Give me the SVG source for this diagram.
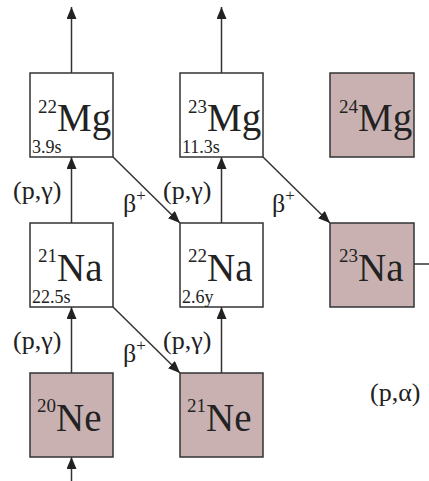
<svg xmlns="http://www.w3.org/2000/svg" width="429" height="481" viewBox="0 0 429 481" font-family="'Liberation Serif', 'Times New Roman', serif">
<defs>
<style>
.box{fill:#ffffff;stroke:#333333;stroke-width:1.5}
.stable{fill:#c9b1b1}
text{fill:#222222}
.el{font-size:39px}
.sup{font-size:19px}
.hl{font-size:18px}
.lab{font-size:26px}
.plus{font-size:17px}
.conn{stroke:#333333;stroke-width:1.5;fill:none}
</style>
<marker id="ah" viewBox="0 0 12 10" refX="12" refY="5" markerWidth="12" markerHeight="10" markerUnits="userSpaceOnUse" orient="auto">
<path d="M0,0 L12,5 L0,10 z" fill="#222222"/>
</marker>
</defs>
<rect width="429" height="481" fill="#ffffff"/>
<g id="connectors">
<line class="conn" x1="71.5" y1="73" x2="71.5" y2="7" marker-end="url(#ah)"/>
<line class="conn" x1="221.5" y1="73" x2="221.5" y2="7" marker-end="url(#ah)"/>
<line class="conn" x1="71.5" y1="223" x2="71.5" y2="157" marker-end="url(#ah)"/>
<line class="conn" x1="221.5" y1="223" x2="221.5" y2="157" marker-end="url(#ah)"/>
<line class="conn" x1="71.5" y1="373" x2="71.5" y2="307" marker-end="url(#ah)"/>
<line class="conn" x1="221.5" y1="373" x2="221.5" y2="307" marker-end="url(#ah)"/>
<line class="conn" x1="71.5" y1="481" x2="71.5" y2="457" marker-end="url(#ah)"/>
<line class="conn" x1="113" y1="157" x2="180" y2="223" marker-end="url(#ah)"/>
<line class="conn" x1="263" y1="157" x2="330" y2="223" marker-end="url(#ah)"/>
<line class="conn" x1="113" y1="307" x2="180" y2="373" marker-end="url(#ah)"/>
<line class="conn" x1="414" y1="264" x2="429" y2="264"/>
</g>
<g id="labels">
<text class="lab" x="13" y="199">(p,γ)</text>
<text class="lab" x="163" y="199">(p,γ)</text>
<text class="lab" x="13" y="349">(p,γ)</text>
<text class="lab" x="163" y="349">(p,γ)</text>
<text class="lab" x="123" y="212">β<tspan class="plus" dy="-11">+</tspan></text>
<text class="lab" x="272" y="212">β<tspan class="plus" dy="-11">+</tspan></text>
<text class="lab" x="123" y="362">β<tspan class="plus" dy="-11">+</tspan></text>
<text class="lab" x="370" y="401">(p,α)</text>
</g>
<g id="mg22">
<rect class="box" x="30" y="73" width="83" height="84"/>
<text class="el"><tspan class="sup" x="38" y="113">22</tspan><tspan y="131">Mg</tspan></text>
<text class="hl" x="32" y="153">3.9s</text>
</g>
<g id="mg23">
<rect class="box" x="180" y="73" width="83" height="84"/>
<text class="el"><tspan class="sup" x="188" y="113">23</tspan><tspan y="131">Mg</tspan></text>
<text class="hl" x="182" y="153">11.3s</text>
</g>
<g id="mg24">
<rect class="box stable" x="330" y="73" width="84" height="84"/>
<text class="el"><tspan class="sup" x="339" y="113">24</tspan><tspan y="131">Mg</tspan></text>
</g>
<g id="na21">
<rect class="box" x="30" y="223" width="83" height="84"/>
<text class="el"><tspan class="sup" x="38" y="262">21</tspan><tspan y="281">Na</tspan></text>
<text class="hl" x="32" y="303">22.5s</text>
</g>
<g id="na22">
<rect class="box" x="180" y="223" width="83" height="84"/>
<text class="el"><tspan class="sup" x="188" y="262">22</tspan><tspan y="281">Na</tspan></text>
<text class="hl" x="182" y="303">2.6y</text>
</g>
<g id="na23">
<rect class="box stable" x="330" y="223" width="84" height="84"/>
<text class="el"><tspan class="sup" x="339" y="262">23</tspan><tspan y="281">Na</tspan></text>
</g>
<g id="ne20">
<rect class="box stable" x="30" y="373" width="83" height="84"/>
<text class="el"><tspan class="sup" x="37" y="412">20</tspan><tspan y="431">Ne</tspan></text>
</g>
<g id="ne21">
<rect class="box stable" x="180" y="373" width="83" height="84"/>
<text class="el"><tspan class="sup" x="187" y="412">21</tspan><tspan y="431">Ne</tspan></text>
</g>
</svg>
